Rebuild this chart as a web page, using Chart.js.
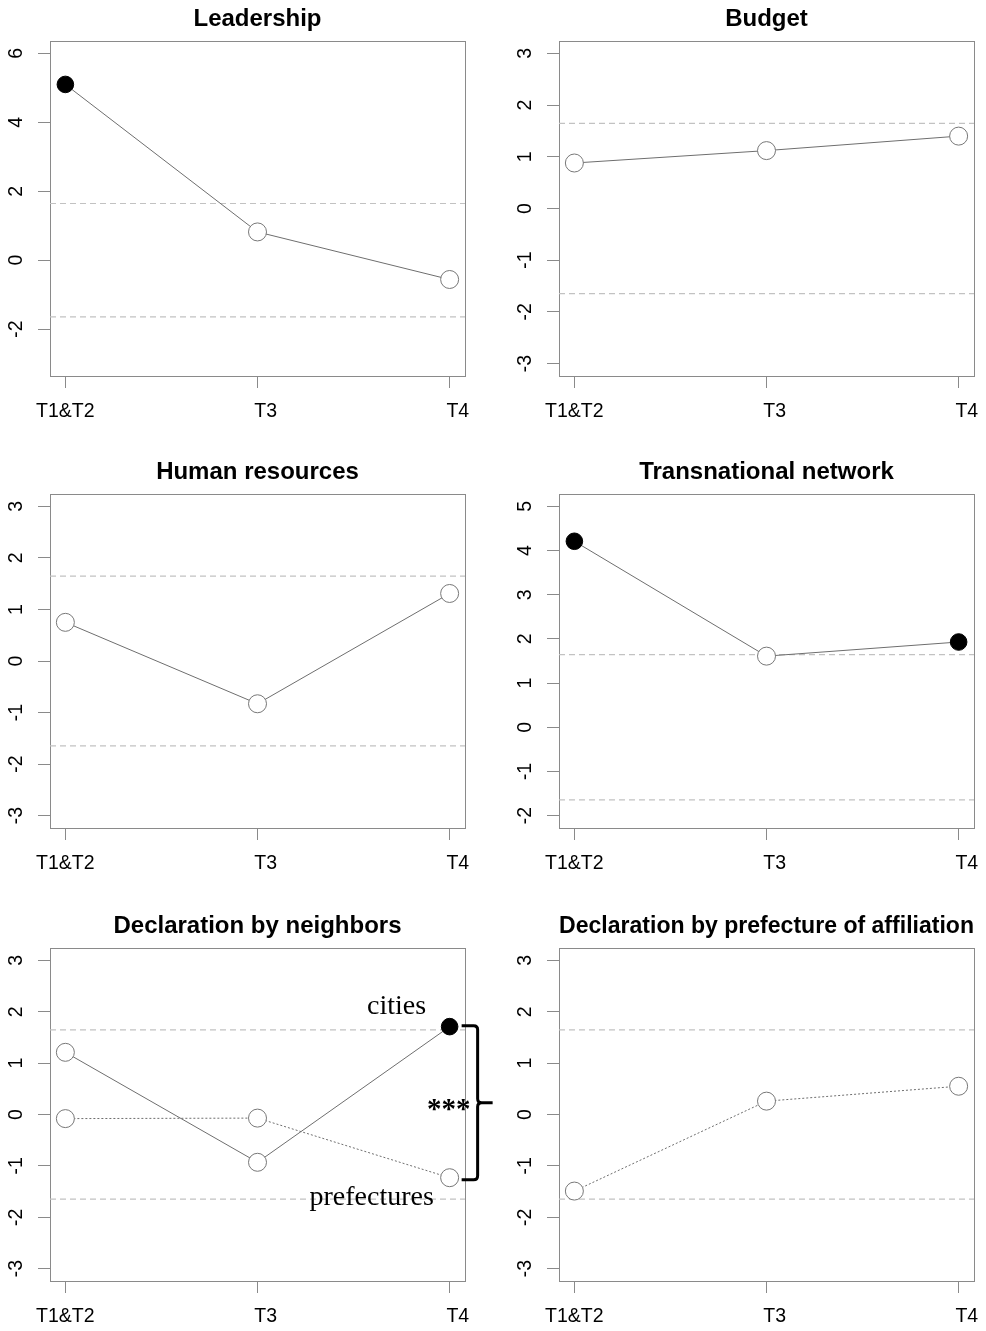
<!DOCTYPE html>
<html>
<head>
<meta charset="utf-8">
<script src="https://cdn.jsdelivr.net/npm/chart.js@4.4.1/dist/chart.umd.min.js"></script>
<style>
  html, body { margin: 0; padding: 0; background: #fff; }
  body { width: 986px; height: 1331px; position: relative; overflow: hidden; }
  canvas { position: absolute; }
</style>
</head>
<body>
<canvas id="p0"></canvas>
<canvas id="p1"></canvas>
<canvas id="p2"></canvas>
<canvas id="p3"></canvas>
<canvas id="p4"></canvas>
<canvas id="p5"></canvas>
<script>
// datos (z-scores)
const categories = ["T1&T2", "T3", "T4"];
const leadership = [5.10, 0.82, -0.56];
const budget = [0.88, 1.12, 1.40];
const humanResources = [0.75, -0.83, 1.31];
const transnational = [4.21, 1.61, 1.93];
const neighborsCities = [1.21, -0.93, 1.71];
const neighborsPrefectures = [-0.08, -0.07, -1.23];
const prefectureAffiliation = [-1.49, 0.26, 0.55];

const ticksLeadership = [-2, 0, 2, 4, 6];
const ticksStandard = [-3, -2, -1, 0, 1, 2, 3];
const ticksTransnational = [-2, -1, 0, 1, 2, 3, 4, 5];
const critical = 1.645;

const panels = [
  { title: "Leadership", series: [leadership], dotted: [false], ylim: [-3, 6], ticks: ticksLeadership },
  { title: "Budget", series: [budget], dotted: [false], ylim: [-3, 3], ticks: ticksStandard },
  { title: "Human resources", series: [humanResources], dotted: [false], ylim: [-3, 3], ticks: ticksStandard },
  { title: "Transnational network", series: [transnational], dotted: [false], ylim: [-2, 5], ticks: ticksTransnational },
  { title: "Declaration by neighbors", series: [neighborsCities, neighborsPrefectures], dotted: [false, true], ylim: [-3, 3], ticks: ticksStandard, note: true },
  { title: "Declaration by prefecture of affiliation", series: [prefectureAffiliation], dotted: [true], ylim: [-3, 3], ticks: ticksStandard }
];

Chart.defaults.font.family = "'Liberation Sans', Arial, sans-serif";
Chart.defaults.color = "#000";

const colLeft = [0, 495];
const colWidth = [495, 491];
const axisWidth = [50, 64];
const padRight = [30, 12];
const rowTop = [0, 453, 907];
const rowBottom = [376, 375, 374];
const H = 424;

// extension R: 4% de cada lado
function ext(lo, hi) {
  const d = (hi - lo) * 0.04;
  return [lo - d, hi + d];
}
const xlim = ext(1, categories.length);

const boxPlugin = {
  id: "box",
  beforeDatasetsDraw(chart) {
    const a = chart.chartArea;
    const ctx = chart.ctx;
    ctx.save();
    ctx.strokeStyle = "#8a8a8a";
    ctx.lineWidth = 1;
    ctx.strokeRect(Math.round(a.left) + 0.5, Math.round(a.top) + 0.5,
      Math.round(a.right - a.left), Math.round(a.bottom - a.top));
    ctx.restore();
  }
};

const notePlugin = {
  id: "note",
  afterDraw(chart) {
    if (!chart.options.plugins.note || !chart.options.plugins.note.on) return;
    const xs = chart.scales.x, ys = chart.scales.y;
    const ctx = chart.ctx;
    const x4 = xs.getPixelForValue(3);
    const yT = ys.getPixelForValue(neighborsCities[2]) - 1;
    const yB = ys.getPixelForValue(neighborsPrefectures[2]) + 2;
    const yM = (yT + yB) / 2;
    const x0 = x4 + 12, xv = x4 + 28, xt = x4 + 43, r = 4;
    ctx.save();
    ctx.strokeStyle = "#000";
    ctx.lineWidth = 3;
    ctx.beginPath();
    ctx.moveTo(x0, yT);
    ctx.lineTo(xv - r, yT);
    ctx.quadraticCurveTo(xv, yT, xv, yT + r);
    ctx.lineTo(xv, yM - r);
    ctx.quadraticCurveTo(xv, yM, xv + r, yM);
    ctx.lineTo(xt, yM);
    ctx.moveTo(xv + r, yM);
    ctx.quadraticCurveTo(xv, yM, xv, yM + r);
    ctx.lineTo(xv, yB - r);
    ctx.quadraticCurveTo(xv, yB, xv - r, yB);
    ctx.lineTo(x0, yB);
    ctx.stroke();

    ctx.fillStyle = "#000";
    ctx.textAlign = "center";
    ctx.textBaseline = "alphabetic";
    ctx.font = "28px 'Liberation Serif', 'Times New Roman', serif";
    ctx.fillText("cities", x4 - 53, yT - 12);
    ctx.fillText("prefectures", x4 - 78, yB + 25);
    ctx.font = "bold 29px 'Liberation Serif', 'Times New Roman', serif";
    ctx.fillText("***", x4 - 1, yM + 15);
    ctx.restore();
  }
};

panels.forEach((p, i) => {
  const col = i % 2, row = Math.floor(i / 2);
  const cv = document.getElementById("p" + i);
  cv.width = colWidth[col];
  cv.height = H;
  cv.style.left = colLeft[col] + "px";
  cv.style.top = rowTop[row] + "px";
  const ylim = ext(p.ylim[0], p.ylim[1]);

  const datasets = p.series.map((vals, k) => ({
    data: vals.map((v, j) => ({ x: j + 1, y: v })),
    borderColor: "#6e6e6e",
    borderWidth: 1,
    borderDash: p.dotted[k] ? [2, 2] : [],
    tension: 0,
    pointRadius: c => Math.abs(c.raw.y) > critical ? 8.3 : 9,
    pointBackgroundColor: c => Math.abs(c.raw.y) > critical ? "#000" : "#fff",
    pointBorderColor: c => Math.abs(c.raw.y) > critical ? "#000" : "#777",
    pointBorderWidth: 1
  }));
  [critical, -critical].forEach(z => {
    datasets.push({
      data: [{ x: xlim[0], y: z }, { x: xlim[1], y: z }],
      borderColor: "#c2c2c2",
      borderWidth: 1.2,
      borderDash: [6, 4],
      pointRadius: 0
    });
  });

  new Chart(cv, {
    type: "line",
    data: { datasets },
    plugins: [boxPlugin, notePlugin],
    options: {
      responsive: false,
      animation: false,
      devicePixelRatio: 1,
      layout: { autoPadding: false, padding: { left: 0, right: padRight[col], top: 0, bottom: 0 } },
      plugins: {
        legend: { display: false },
        tooltip: { enabled: false },
        title: {
          display: true,
          text: p.title,
          fullSize: false,
          color: "#000",
          font: { size: 24, weight: "bold" },
          padding: { top: 4.6, bottom: 7.6 }
        },
        note: { on: !!p.note }
      },
      scales: {
        x: {
          type: "linear",
          min: xlim[0],
          max: xlim[1],
          border: { display: false },
          grid: { display: true, drawOnChartArea: false, drawTicks: true, tickLength: 12, color: "#8a8a8a" },
          afterBuildTicks: s => { s.ticks = categories.map((c, j) => ({ value: j + 1 })); },
          afterFit: s => { s.height = H - rowBottom[row]; s.paddingLeft = 0; s.paddingRight = 0; },
          ticks: {
            padding: 12,
            maxRotation: 0,
            autoSkip: false,
            font: { size: 19.5 },
            color: "#000",
            // en el original T3 y T4 quedan algo a la derecha del tick
            callback: v => (v > 1 ? "   " : "") + categories[v - 1]
          }
        },
        y: {
          type: "linear",
          min: ylim[0],
          max: ylim[1],
          border: { display: false },
          grid: { display: true, drawOnChartArea: false, drawTicks: true, tickLength: 12, color: "#8a8a8a" },
          afterBuildTicks: s => { s.ticks = p.ticks.map(v => ({ value: v })); },
          afterFit: s => { s.width = axisWidth[col]; s.paddingTop = 0; s.paddingBottom = 0; },
          ticks: {
            padding: 13,
            minRotation: 90,
            maxRotation: 90,
            crossAlign: "center",
            autoSkip: false,
            font: { size: 19.5 },
            color: "#000",
            callback: v => String(v)
          }
        }
      }
    }
  });
});
</script>
</body>
</html>
